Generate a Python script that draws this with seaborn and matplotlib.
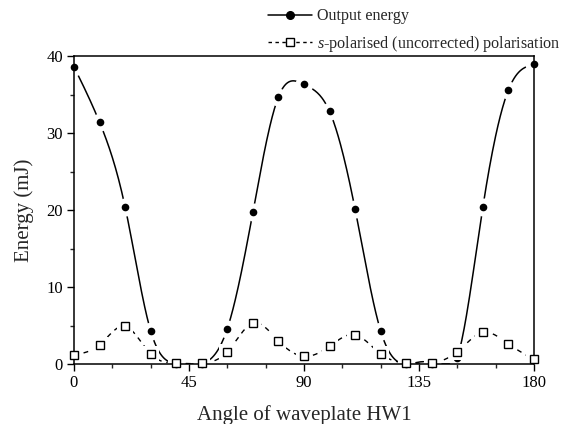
import numpy as np
import pandas as pd
import matplotlib
matplotlib.use("Agg")
import matplotlib.pyplot as plt
from matplotlib.lines import Line2D
from matplotlib.ticker import MultipleLocator
import seaborn as sns

# ---- data ----
angle = [0, 10, 20, 30, 40, 50, 60, 70, 80, 90, 100, 110, 120, 130, 140, 150, 160, 170, 180]
output_energy = [38.6, 31.4, 20.4, 4.3, 0.0, 0.0, 4.6, 19.7, 34.7, 36.3, 32.8, 20.1, 4.3, 0.0, 0.0, 0.8, 20.4, 35.6, 38.9]
s_polarised = [1.2, 2.5, 4.9, 1.3, 0.1, 0.1, 1.6, 5.3, 3.0, 1.0, 2.3, 3.8, 1.3, 0.1, 0.1, 1.6, 4.1, 2.6, 0.6]
x_ticks = [0, 45, 90, 135, 180]
y_ticks = [0, 10, 20, 30, 40]
label_energy = "Output energy"
label_s = r"$\it{s}$-polarised (uncorrected) polarisation"


def natural_spline(x, y, n=600):
    x = np.asarray(x, float)
    y = np.asarray(y, float)
    h = np.diff(x)
    m = len(x)
    A = np.zeros((m, m))
    r = np.zeros(m)
    A[0, 0] = A[-1, -1] = 1.0
    for i in range(1, m - 1):
        A[i, i - 1] = h[i - 1]
        A[i, i] = 2 * (h[i - 1] + h[i])
        A[i, i + 1] = h[i]
        r[i] = 6 * ((y[i + 1] - y[i]) / h[i] - (y[i] - y[i - 1]) / h[i - 1])
    M = np.linalg.solve(A, r)
    xs = np.linspace(x[0], x[-1], n)
    idx = np.clip(np.searchsorted(x, xs) - 1, 0, m - 2)
    x0, x1 = x[idx], x[idx + 1]
    hh = x1 - x0
    t0 = x1 - xs
    t1 = xs - x0
    ys = (M[idx] * t0 ** 3 / (6 * hh) + M[idx + 1] * t1 ** 3 / (6 * hh)
          + (y[idx] / hh - M[idx] * hh / 6) * t0
          + (y[idx + 1] / hh - M[idx + 1] * hh / 6) * t1)
    return xs, np.clip(ys, 0, None)


sns.set_theme(style="ticks")
plt.rcParams["font.family"] = ["Liberation Serif", "DejaVu Serif"]
plt.rcParams["mathtext.fontset"] = "custom"
plt.rcParams["mathtext.rm"] = "Liberation Serif"
plt.rcParams["mathtext.it"] = "Liberation Serif:italic"

fig = plt.figure(figsize=(5.67, 4.24), dpi=100)
ax = fig.add_axes([74 / 567, 1 - 364 / 424, 460 / 567, 308 / 424])

xe, ye = natural_spline(angle, output_energy)
xsp, ysp = natural_spline(angle, s_polarised)
curve_e = pd.DataFrame({"x": xe, "y": ye})
curve_s = pd.DataFrame({"x": xsp, "y": ysp})

sns.lineplot(data=curve_e, x="x", y="y", ax=ax, color="black", lw=1.1, zorder=2)
sns.lineplot(data=curve_s, x="x", y="y", ax=ax, color="black", lw=1.0,
             linestyle=(0, (3.5, 3.5)), zorder=2)
# white halos make the gaps in the lines around the markers
ax.plot(angle, output_energy, ls="none", marker="o", ms=13, mfc="white", mec="white",
        mew=0, zorder=3)
ax.plot(angle, output_energy, ls="none", marker="o", ms=5.5, mfc="black", mec="black",
        mew=0, zorder=4, clip_on=False)
ax.plot(angle, s_polarised, ls="none", marker="s", ms=11, mfc="white", mec="white",
        mew=0, zorder=5)
ax.plot(angle, s_polarised, ls="none", marker="s", ms=5.2, mfc="white", mec="black",
        mew=1.0, zorder=6, clip_on=False)

ax.set_xlim(0, 180)
ax.set_ylim(0, 40)
ax.set_xticks(x_ticks)
ax.set_yticks(y_ticks)
ax.xaxis.set_minor_locator(MultipleLocator(15))
ax.yaxis.set_minor_locator(MultipleLocator(5))
ax.tick_params(which="major", direction="out", length=5, width=1.0, labelsize=12,
               colors="black", pad=3)
ax.tick_params(which="minor", direction="out", length=3, width=1.0)
for sp in ax.spines.values():
    sp.set_visible(True)
    sp.set_color("black")
    sp.set_linewidth(1.1)
    sp.set_zorder(5.5)
ax.set_xlabel("Angle of waveplate HW1", fontsize=15, labelpad=10)
ax.set_ylabel("Energy (mJ)", fontsize=15, labelpad=9)

handles = [
    Line2D([], [], color="black", lw=1.1, marker="o", markersize=5.5),
    Line2D([], [], color="black", lw=1.0, linestyle=(0, (2.5, 2.5)), marker="s",
           markersize=5.5, markerfacecolor="white", markeredgecolor="black"),
]
fig.legend(handles, [label_energy, label_s], loc="upper left",
           bbox_to_anchor=(265 / 567, 1 - 5 / 424), frameon=False, fontsize=11.6,
           handlelength=2.7, handletextpad=0.3, labelspacing=0.6, borderpad=0.2,
           borderaxespad=0)

fig.savefig("out.png", dpi=100)
